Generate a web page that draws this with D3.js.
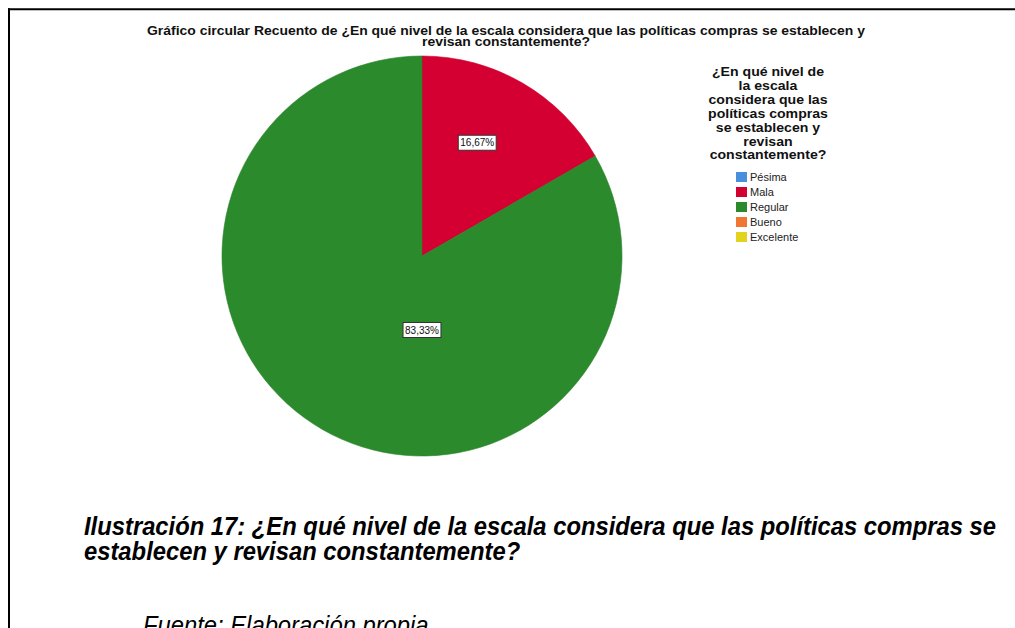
<!DOCTYPE html>
<html>
<head>
<meta charset="utf-8">
<script src="https://cdn.jsdelivr.net/npm/d3@7"></script>
<style>
  html, body { margin: 0; padding: 0; background: #fff; }
  svg { display: block; }
  text { font-family: "Liberation Sans", Arial, sans-serif; }
</style>
</head>
<body>
<svg id="chart" width="1015" height="628"></svg>
<script>
// Response categories and their counts
const categories = ["Pésima", "Mala", "Regular", "Bueno", "Excelente"];
const counts = [0, 1, 5, 0, 0];
const palette = ["#4a8fdb", "#d50032", "#2a8a2c", "#f07634", "#e3d21e"];

const titleLines = [
  "Gráfico circular Recuento de ¿En qué nivel de la escala considera que las políticas compras se establecen y",
  "revisan constantemente?"
];
const legendTitleLines = [
  "¿En qué nivel de", "la escala", "considera que las", "políticas compras",
  "se establecen y", "revisan", "constantemente?"
];
const captionLines = [
  "Ilustración 17: ¿En qué nivel de la escala considera que las políticas compras se",
  "establecen y revisan constantemente?"
];
const sourceLine = "Fuente: Elaboración propia";

const svg = d3.select("#chart");
const W = 1015, H = 628;

// Frame: top and left rules
svg.append("line").attr("x1", 8).attr("x2", W).attr("y1", 9.3).attr("y2", 9.3)
  .attr("stroke", "#000").attr("stroke-width", 2);
svg.append("line").attr("x1", 9).attr("x2", 9).attr("y1", 8.3).attr("y2", H)
  .attr("stroke", "#000").attr("stroke-width", 2);

// Squeeze a block of lines horizontally using the first line's target width
function squeezeBlock(sel, firstWidth) {
  const nodes = sel.nodes();
  const natural = nodes[0].getComputedTextLength();
  const ratio = firstWidth / natural;
  nodes.forEach(n => {
    const w = n.getComputedTextLength();
    d3.select(n).attr("textLength", w * ratio).attr("lengthAdjust", "spacingAndGlyphs");
  });
  return ratio;
}

// Chart title
const titleSel = svg.append("g").selectAll("text").data(titleLines).join("text")
  .attr("x", 506).attr("y", (d, i) => 34.5 + i * 11.5)
  .attr("text-anchor", "middle")
  .attr("font-size", 12.5).attr("font-weight", "bold").attr("fill", "#111")
  .text(d => d);
squeezeBlock(titleSel, 718);

// Pie
const cx = 422, cy = 256, R = 200;
const data = categories.map((c, i) => ({ cat: c, count: counts[i], color: palette[i] }));
const total = d3.sum(counts);
const pie = d3.pie().sort(null).value(d => d.count);
const arcs = pie(data).filter(a => a.data.count > 0);
const arc = d3.arc().innerRadius(0).outerRadius(R);

const gPie = svg.append("g").attr("transform", `translate(${cx},${cy})`);
gPie.selectAll("path").data(arcs).join("path")
  .attr("d", arc)
  .attr("fill", d => d.data.color)
  .attr("stroke", d => d3.color(d.data.color).darker(0.15))
  .attr("stroke-width", 0.6);

// Percentage labels inside slices
const fmtPct = v => (v * 100).toFixed(2).replace(".", ",") + "%";
function labelPoint(a) {
  const span = a.endAngle - a.startAngle;
  let ang = (a.startAngle + a.endAngle) / 2 - 0.07, r = R * 0.63;
  // a slice covering most of the pie gets its label just below the centre
  if (span > Math.PI && a.startAngle <= Math.PI && a.endAngle >= Math.PI) {
    ang = Math.PI; r = R * 0.37;
  }
  return [Math.sin(ang) * r, -Math.cos(ang) * r];
}
const lab = gPie.selectAll("g.lab").data(arcs).join("g").attr("class", "lab")
  .attr("transform", d => `translate(${labelPoint(d)})`);
lab.append("rect");
lab.append("text")
  .attr("text-anchor", "middle").attr("dy", "0.35em")
  .attr("font-size", 10).attr("fill", "#111")
  .text(d => fmtPct(d.data.count / total));
lab.each(function () {
  const g = d3.select(this);
  const w = g.select("text").node().getComputedTextLength();
  g.select("rect")
    .attr("x", -w / 2 - 2).attr("y", -7.5).attr("width", w + 4).attr("height", 15)
    .attr("fill", "#fff").attr("stroke", "#333").attr("stroke-width", 1);
});

// Legend
const gLeg = svg.append("g");
const legTitle = gLeg.selectAll("text.lt").data(legendTitleLines).join("text").attr("class", "lt")
  .attr("x", 768).attr("y", (d, i) => 76 + i * 13.9)
  .attr("text-anchor", "middle")
  .attr("font-size", 13.5).attr("font-weight", "bold").attr("fill", "#111")
  .text(d => d);
squeezeBlock(legTitle, 112);

const item = gLeg.selectAll("g.item").data(data).join("g").attr("class", "item")
  .attr("transform", (d, i) => `translate(736,${177 + i * 15})`);
item.append("rect").attr("x", 0).attr("y", -5).attr("width", 11).attr("height", 10)
  .attr("fill", d => d.color);
item.append("text").attr("x", 14).attr("dy", "0.36em")
  .attr("font-size", 11).attr("fill", "#222")
  .text(d => d.cat);

// Caption below the chart
const cap = svg.append("g").selectAll("text").data(captionLines).join("text")
  .attr("x", 84).attr("y", (d, i) => 535 + i * 25)
  .attr("font-size", 26).attr("font-weight", "bold").attr("font-style", "italic")
  .attr("fill", "#000")
  .text(d => d);
const ratio = squeezeBlock(cap, 912);

const src = svg.append("text")
  .attr("x", 143).attr("y", 634)
  .attr("font-size", 26).attr("font-style", "italic").attr("fill", "#000")
  .text(sourceLine);
src.attr("textLength", src.node().getComputedTextLength() * ratio).attr("lengthAdjust", "spacingAndGlyphs");
</script>
</body>
</html>
